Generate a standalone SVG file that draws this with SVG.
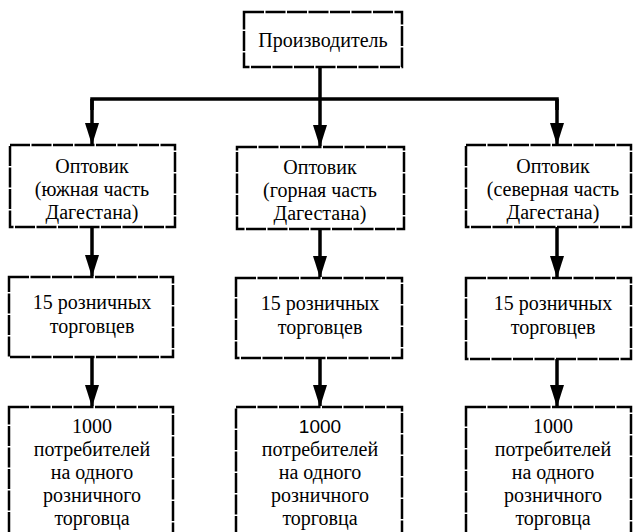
<svg xmlns="http://www.w3.org/2000/svg" width="633" height="532" viewBox="0 0 633 532">
<defs>
<marker id="ah" markerWidth="22" markerHeight="14" refX="21" refY="7" orient="auto" markerUnits="userSpaceOnUse" viewBox="0 0 22 14">
<path d="M0,0 L22,7 L0,14 Z" fill="#000"/>
</marker>
</defs>
<style>
rect.box{fill:#fff;stroke:#000;stroke-width:2.5;stroke-dasharray:20 1.5}
text.t{font-family:"Liberation Serif","Times New Roman","DejaVu Serif",serif;font-size:20px;fill:#000;text-anchor:middle}
text.ts{font-family:"Liberation Sans",Arial,sans-serif;font-size:19px;fill:#000;text-anchor:middle}
.ln{fill:none;stroke:#000;stroke-width:3.5}
.arr{fill:none;stroke:#000;stroke-width:3.5;marker-end:url(#ah)}
</style>
<rect width="633" height="532" fill="#fff"/>
<g id="connectors">
<line class="ln" x1="320" y1="67" x2="320" y2="99"/>
<path class="ln" d="M92,110 V99 H557 V110"/>
<line class="arr" x1="92" y1="99" x2="92" y2="144"/>
<line class="arr" x1="320" y1="99" x2="320" y2="146"/>
<line class="arr" x1="557" y1="99" x2="557" y2="144"/>
<line class="arr" x1="92" y1="227" x2="92" y2="276"/>
<line class="arr" x1="320" y1="229" x2="320" y2="277"/>
<line class="arr" x1="557" y1="227" x2="557" y2="277"/>
<line class="arr" x1="92" y1="357" x2="92" y2="406"/>
<line class="arr" x1="320" y1="358" x2="320" y2="406"/>
<line class="arr" x1="557" y1="359" x2="557" y2="406"/>
</g>
<g id="producer">
<rect class="box" x="244" y="12" width="158" height="55"/>
<text class="t" x="323" y="47">Производитель</text>
</g>
<g id="wholesale-south">
<rect class="box" x="10" y="145" width="165" height="82"/>
<text class="t" x="92" y="173">Оптовик</text>
<text class="t" x="92" y="196">(южная часть</text>
<text class="t" x="92" y="219">Дагестана)</text>
</g>
<g id="wholesale-mountain">
<rect class="box" x="237" y="147" width="167" height="82"/>
<text class="t" x="320" y="174">Оптовик</text>
<text class="t" x="320" y="197">(горная часть</text>
<text class="t" x="320" y="220">Дагестана)</text>
</g>
<g id="wholesale-north">
<rect class="box" x="466" y="145" width="165" height="82"/>
<text class="t" x="553" y="173">Оптовик</text>
<text class="t" x="553" y="196">(северная часть</text>
<text class="t" x="553" y="219">Дагестана)</text>
</g>
<g id="retail-1">
<rect class="box" x="9" y="277" width="164" height="80"/>
<text class="t" x="92" y="309">15 розничных</text>
<text class="t" x="92" y="333">торговцев</text>
</g>
<g id="retail-2">
<rect class="box" x="236" y="278" width="166" height="80"/>
<text class="t" x="320" y="310">15 розничных</text>
<text class="t" x="320" y="334">торговцев</text>
</g>
<g id="retail-3">
<rect class="box" x="466" y="278" width="165" height="81"/>
<text class="t" x="553" y="310">15 розничных</text>
<text class="t" x="553" y="334">торговцев</text>
</g>
<g id="consumers-1">
<rect class="box" x="9" y="407" width="164" height="135"/>
<text class="t" x="92" y="433">1000</text>
<text class="t" x="92" y="456">потребителей</text>
<text class="t" x="92" y="479">на одного</text>
<text class="t" x="92" y="502">розничного</text>
<text class="t" x="92" y="525">торговца</text>
</g>
<g id="consumers-2">
<rect class="box" x="236" y="407" width="166" height="135"/>
<text class="ts" x="320" y="433">1000</text>
<text class="t" x="320" y="456">потребителей</text>
<text class="t" x="320" y="479">на одного</text>
<text class="t" x="320" y="502">розничного</text>
<text class="t" x="320" y="525">торговца</text>
</g>
<g id="consumers-3">
<rect class="box" x="466" y="407" width="165" height="135"/>
<text class="t" x="553" y="433">1000</text>
<text class="t" x="553" y="456">потребителей</text>
<text class="t" x="553" y="479">на одного</text>
<text class="t" x="553" y="502">розничного</text>
<text class="t" x="553" y="525">торговца</text>
</g>
</svg>
